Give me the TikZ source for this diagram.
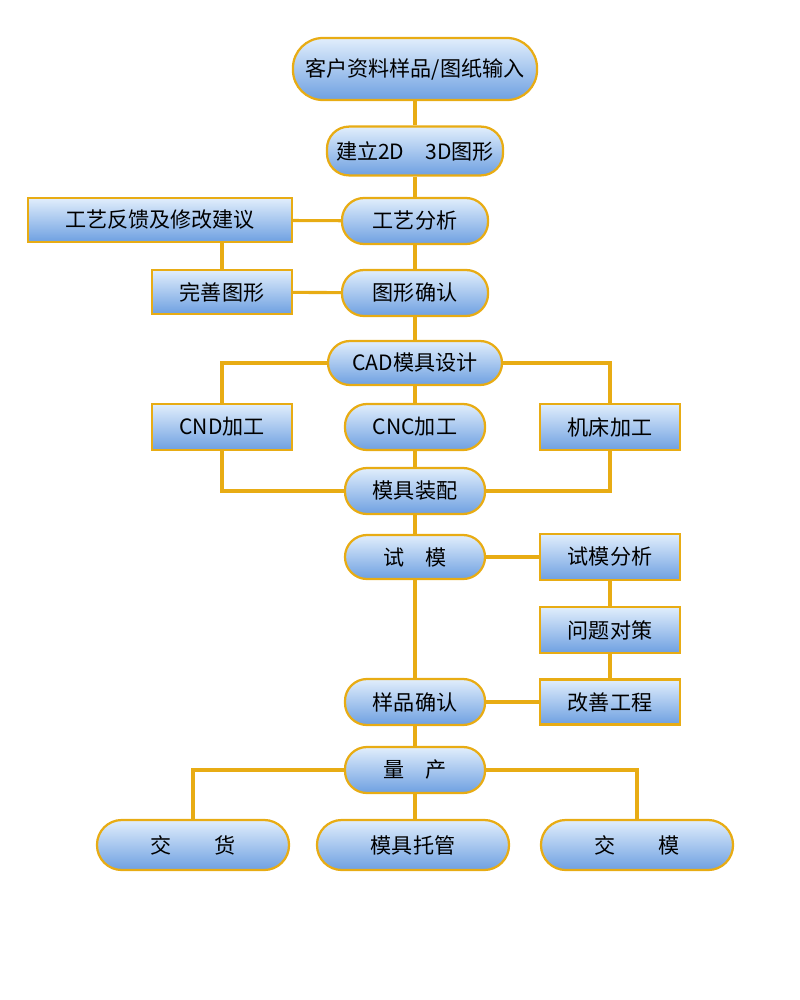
\documentclass[tikz,border=0pt]{standalone}
\usepackage{fontspec}
\setmainfont{Noto Sans CJK SC}
\usetikzlibrary{backgrounds}
\definecolor{gold}{RGB}{232,172,20}
\definecolor{boxtop}{RGB}{225,238,252}
\definecolor{boxbot}{RGB}{110,160,225}
\tikzset{
  box/.style={draw=gold, line width=1.6pt, top color=boxtop, bottom color=boxbot,
    inner sep=0pt, font=\fontsize{15}{15}\selectfont},
  pill/.style={box, rounded corners=0.55cm, minimum width=3.5cm, minimum height=1.15cm},
  rectbox/.style={box, minimum width=3.5cm, minimum height=1.15cm},
  link/.style={draw=gold, line width=2.2pt}
}
\begin{document}
\begin{tikzpicture}[x=0.025cm, y=-0.025cm]
  \useasboundingbox (0,0) rectangle (800,1000);

  % main column
  \node[pill, minimum width=6.1cm, minimum height=1.55cm, rounded corners=0.75cm] (input) at (415,69) {客户资料样品/图纸输入};
  \node[pill, minimum width=4.4cm, minimum height=1.22cm] (build) at (415,151) {建立2D\quad 3D图形};
  \node[pill, minimum width=3.65cm] (craft) at (415,221) {工艺分析};
  \node[pill, minimum width=3.65cm] (check) at (415,293) {图形确认};
  \node[pill, minimum width=4.35cm, minimum height=1.1cm] (cad) at (415,363) {CAD模具设计};
  \node[pill] (cnc) at (415,427) {CNC加工};
  \node[pill] (fit) at (415,491) {模具装配};
  \node[pill, minimum height=1.1cm] (trial) at (415,557) {试\quad 模};
  \node[pill] (sample) at (415,702) {样品确认};
  \node[pill] (mass) at (415,770) {量\quad 产};

  % side boxes
  \node[rectbox, minimum width=6.6cm, minimum height=1.1cm] (feedback) at (160,220) {工艺反馈及修改建议};
  \node[rectbox, minimum height=1.1cm] (refine) at (222,292) {完善图形};
  \node[rectbox] (cnd) at (222,427) {CND加工};
  \node[rectbox] (lathe) at (610,427) {机床加工};
  \node[rectbox] (analyse) at (610,557) {试模分析};
  \node[rectbox] (measure) at (610,630) {问题对策};
  \node[rectbox, minimum height=1.12cm] (improve) at (610,702) {改善工程};

  % outputs
  \node[pill, minimum width=4.8cm, minimum height=1.25cm, rounded corners=0.62cm] (deliver) at (193,845) {交\qquad 货};
  \node[pill, minimum width=4.8cm, minimum height=1.25cm, rounded corners=0.62cm] (keep) at (413,845) {模具托管};
  \node[pill, minimum width=4.8cm, minimum height=1.25cm, rounded corners=0.62cm] (handover) at (637,845) {交\qquad 模};

  \begin{pgfonlayer}{background}
    \draw[link] (input) -- (build) -- (craft) -- (check) -- (cad) -- (cnc) -- (fit) -- (trial) -- (sample) -- (mass);
    \draw[link] (craft) -- (feedback);
    \draw[link] (feedback.south -| refine) -- (refine);
    \draw[link] (refine) -- (check);
    \draw[link] (cad) -| (cnd);
    \draw[link] (cnd) |- (fit);
    \draw[link] (cad) -| (lathe);
    \draw[link] (lathe) |- (fit);
    \draw[link] (trial) -- (analyse) -- (measure) -- (improve) -- (sample);
    \draw[link] (mass) -| (deliver);
    \draw[link] (mass) -- (keep.north -| mass);
    \draw[link] (mass) -| (handover);
  \end{pgfonlayer}
\end{tikzpicture}
\end{document}
